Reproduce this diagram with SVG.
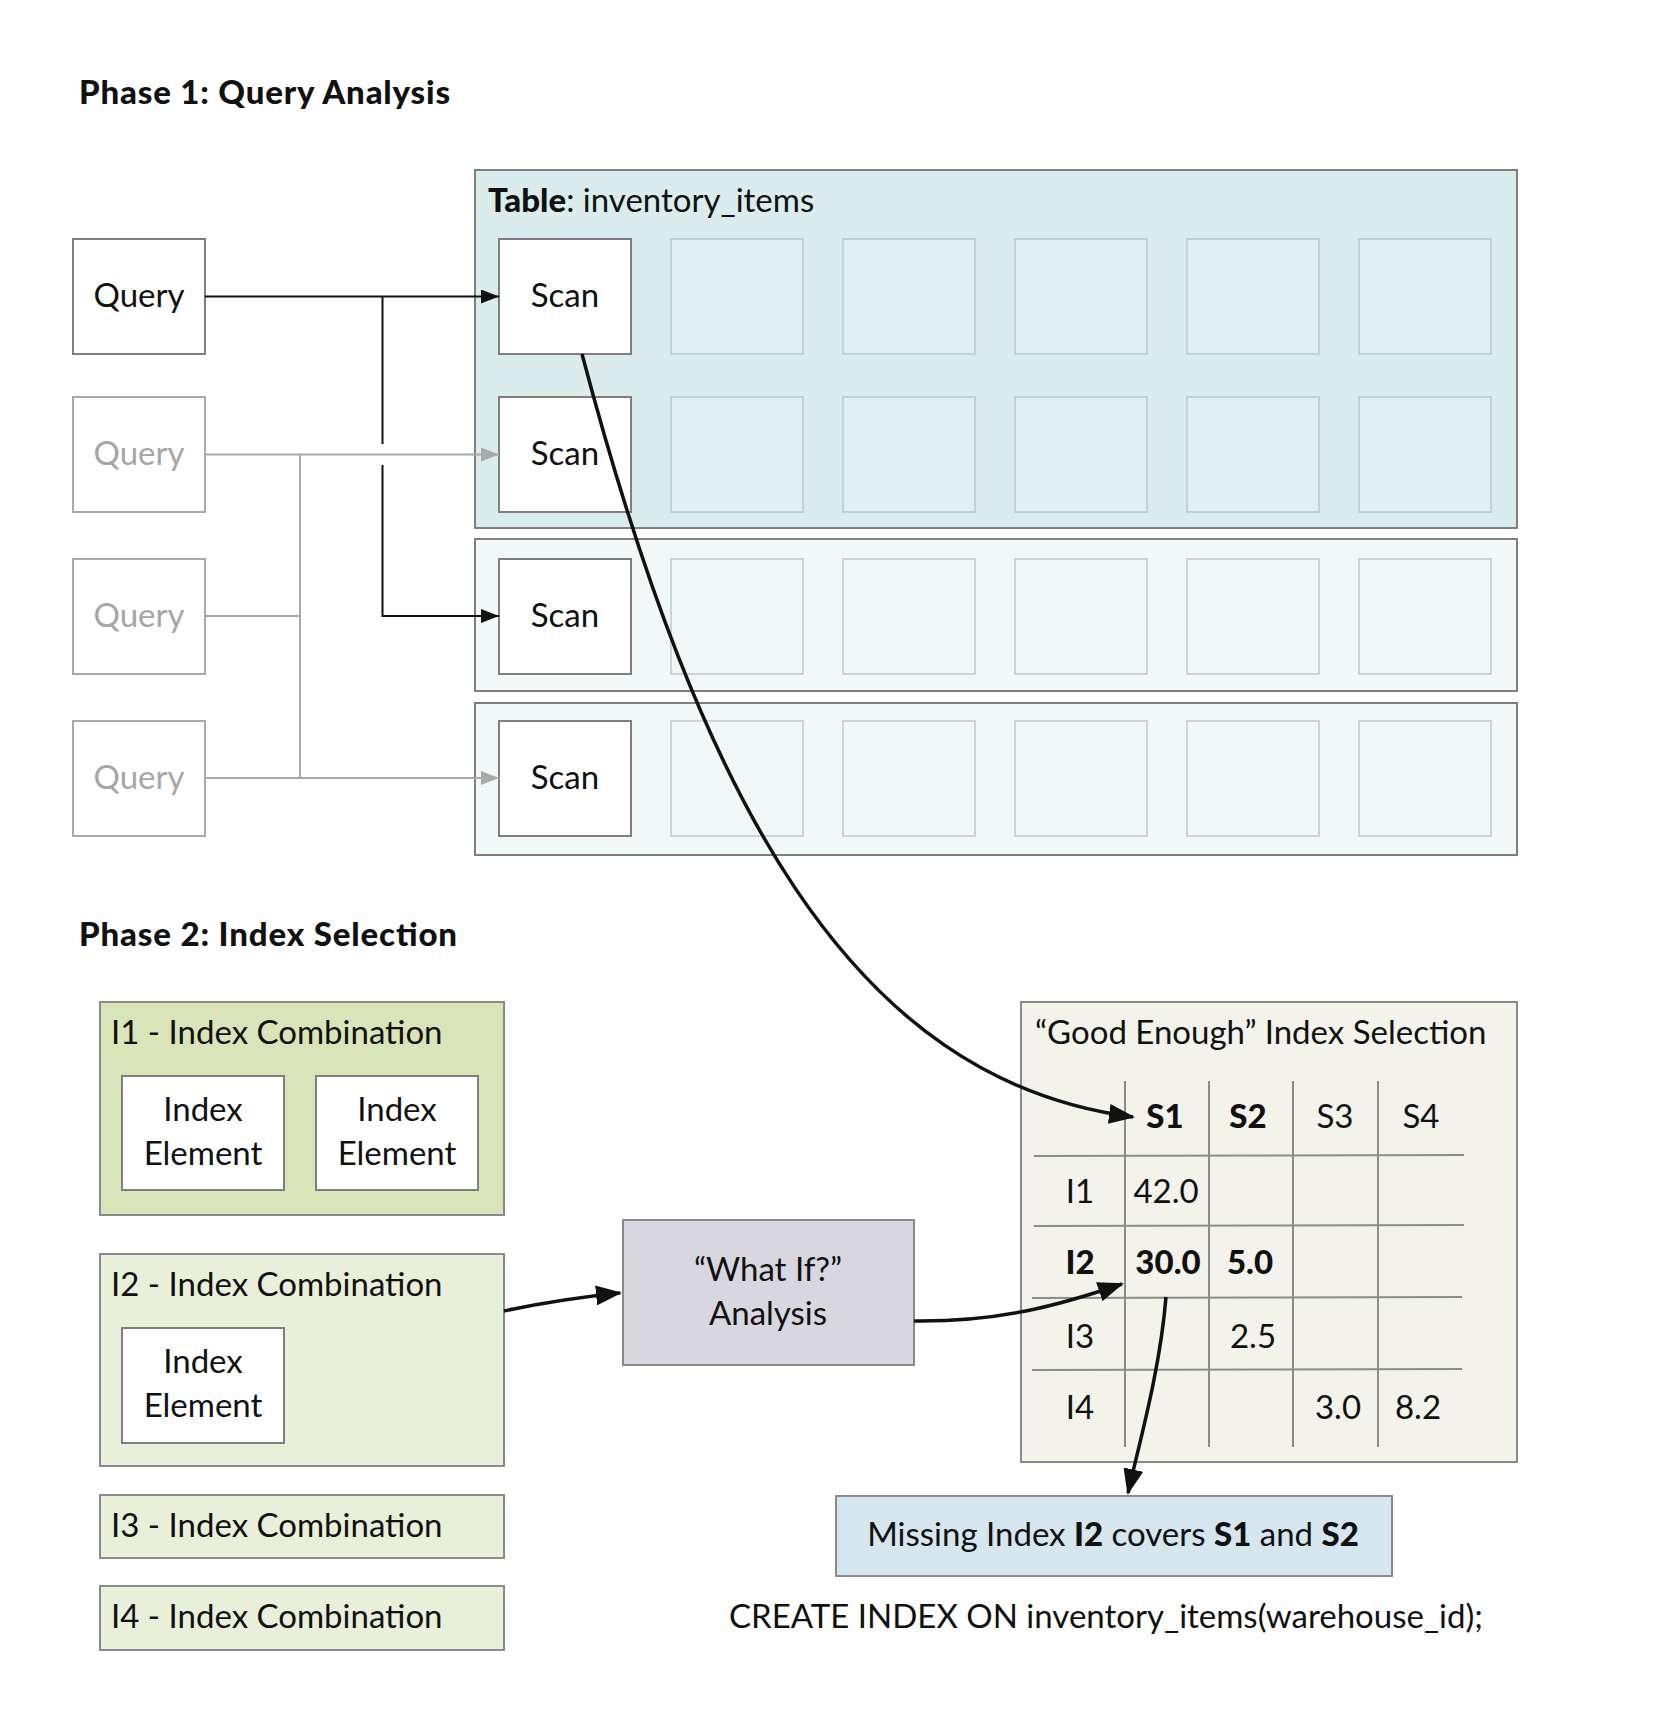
<svg xmlns="http://www.w3.org/2000/svg" width="1672" height="1728" viewBox="0 0 1672 1728">
<style>
text{font-family:Lato,"Noto Sans","Liberation Sans",sans-serif;font-size:33px;fill:#111}
.title{font-weight:900;font-size:33px}
.c{text-anchor:middle}
.b{font-weight:900}
.box{fill:#fff;stroke:#7f7f7f;stroke-width:2}
.gbox{fill:#fff;stroke:#a9a9a9;stroke-width:2}
.gtxt{fill:#a6a6a6}
.cell{fill:#e2eff0;stroke:#c3d1d2;stroke-width:2}
.cell2{fill:#f2f8f8;stroke:#c9d5d6;stroke-width:2}
.tbl{stroke:#7f7f7f;stroke-width:2}
.grid{stroke:#8c8c8c;stroke-width:2}
.ln{fill:none;stroke:#111;stroke-width:2}
.lg{fill:none;stroke:#a9a9a9;stroke-width:2}
.thick{fill:none;stroke:#111;stroke-width:3.5}
</style>
<defs>
<marker id="ab" markerUnits="userSpaceOnUse" markerWidth="18" markerHeight="14" refX="18" refY="7" orient="auto"><path d="M0,0 L18,7 L0,14 Z" fill="#111"/></marker>
<marker id="ag" markerUnits="userSpaceOnUse" markerWidth="18" markerHeight="14" refX="18" refY="7" orient="auto"><path d="M0,0 L18,7 L0,14 Z" fill="#a9a9a9"/></marker>
<marker id="abig" markerUnits="userSpaceOnUse" markerWidth="26" markerHeight="20" refX="24" refY="10" orient="auto"><path d="M0,0 L26,10 L0,20 Z" fill="#111"/></marker>
</defs>
<rect width="1672" height="1728" fill="#fff"/>

<text class="title" x="79" y="104" textLength="371" lengthAdjust="spacing">Phase 1: Query Analysis</text>
<text class="title" x="79" y="946" textLength="378" lengthAdjust="spacing">Phase 2: Index Selection</text>

<g id="table-main">
<rect class="tbl" x="475" y="170" width="1042" height="358" fill="#dbecec"/>
<text x="488" y="212"><tspan class="b">Table</tspan>: inventory_items</text>
</g>
<g id="table-row3"><rect class="tbl" x="475" y="539" width="1042" height="152" fill="#f2f8f8"/></g>
<g id="table-row4"><rect class="tbl" x="475" y="703" width="1042" height="152" fill="#f2f8f8"/></g>

<g id="cells">
<rect class="cell" x="671" y="239" width="132" height="115"/><rect class="cell" x="843" y="239" width="132" height="115"/><rect class="cell" x="1015" y="239" width="132" height="115"/><rect class="cell" x="1187" y="239" width="132" height="115"/><rect class="cell" x="1359" y="239" width="132" height="115"/>
<rect class="cell" x="671" y="397" width="132" height="115"/><rect class="cell" x="843" y="397" width="132" height="115"/><rect class="cell" x="1015" y="397" width="132" height="115"/><rect class="cell" x="1187" y="397" width="132" height="115"/><rect class="cell" x="1359" y="397" width="132" height="115"/>
<rect class="cell2" x="671" y="559" width="132" height="115"/><rect class="cell2" x="843" y="559" width="132" height="115"/><rect class="cell2" x="1015" y="559" width="132" height="115"/><rect class="cell2" x="1187" y="559" width="132" height="115"/><rect class="cell2" x="1359" y="559" width="132" height="115"/>
<rect class="cell2" x="671" y="721" width="132" height="115"/><rect class="cell2" x="843" y="721" width="132" height="115"/><rect class="cell2" x="1015" y="721" width="132" height="115"/><rect class="cell2" x="1187" y="721" width="132" height="115"/><rect class="cell2" x="1359" y="721" width="132" height="115"/>
</g>

<g id="query1"><rect class="box" x="73" y="239" width="132" height="115"/><text class="c" x="139" y="307">Query</text></g>
<g id="query2"><rect class="gbox" x="73" y="397" width="132" height="115"/><text class="c gtxt" x="139" y="465">Query</text></g>
<g id="query3"><rect class="gbox" x="73" y="559" width="132" height="115"/><text class="c gtxt" x="139" y="627">Query</text></g>
<g id="query4"><rect class="gbox" x="73" y="721" width="132" height="115"/><text class="c gtxt" x="139" y="789">Query</text></g>

<g id="scan1"><rect class="box" x="499" y="239" width="132" height="115"/><text class="c" x="565" y="307">Scan</text></g>
<g id="scan2"><rect class="box" x="499" y="397" width="132" height="115"/><text class="c" x="565" y="465">Scan</text></g>
<g id="scan3"><rect class="box" x="499" y="559" width="132" height="115"/><text class="c" x="565" y="627">Scan</text></g>
<g id="scan4"><rect class="box" x="499" y="721" width="132" height="115"/><text class="c" x="565" y="789">Scan</text></g>

<g id="i1">
<rect x="100" y="1002" width="404" height="213" fill="#d9e5b8" stroke="#8a8a8a" stroke-width="2"/>
<text x="111" y="1044">I1 - Index Combination</text>
<rect class="box" x="122" y="1076" width="162" height="114"/>
<text class="c" x="203" y="1121">Index</text><text class="c" x="203" y="1165">Element</text>
<rect class="box" x="316" y="1076" width="162" height="114"/>
<text class="c" x="397" y="1121">Index</text><text class="c" x="397" y="1165">Element</text>
</g>
<g id="i2">
<rect x="100" y="1254" width="404" height="212" fill="#e9f0da" stroke="#8a8a8a" stroke-width="2"/>
<text x="111" y="1296">I2 - Index Combination</text>
<rect class="box" x="122" y="1328" width="162" height="115"/>
<text class="c" x="203" y="1373">Index</text><text class="c" x="203" y="1417">Element</text>
</g>
<g id="i3">
<rect x="100" y="1495" width="404" height="63" fill="#e9f0da" stroke="#8a8a8a" stroke-width="2"/>
<text x="111" y="1537">I3 - Index Combination</text>
</g>
<g id="i4">
<rect x="100" y="1586" width="404" height="64" fill="#e9f0da" stroke="#8a8a8a" stroke-width="2"/>
<text x="111" y="1628">I4 - Index Combination</text>
</g>

<g id="whatif">
<rect x="623" y="1220" width="291" height="145" fill="#d8d7df" stroke="#8a8a8a" stroke-width="2"/>
<text class="c" x="768" y="1281">“What If?”</text>
<text class="c" x="768" y="1325">Analysis</text>
</g>

<g id="goodenough">
<rect x="1021" y="1002" width="496" height="460" fill="#f3f3ec" stroke="#8a8a8a" stroke-width="2"/>
<text x="1035" y="1044">“Good Enough” Index Selection</text>
<line class="grid" x1="1125" y1="1081" x2="1125" y2="1447"/>
<line class="grid" x1="1209" y1="1081" x2="1209" y2="1447"/>
<line class="grid" x1="1293" y1="1081" x2="1293" y2="1447"/>
<line class="grid" x1="1378" y1="1081" x2="1378" y2="1447"/>
<line class="grid" x1="1034" y1="1156" x2="1464" y2="1155"/>
<line class="grid" x1="1034" y1="1226" x2="1464" y2="1225"/>
<line class="grid" x1="1032" y1="1298" x2="1462" y2="1297"/>
<line class="grid" x1="1032" y1="1370" x2="1462" y2="1369"/>
<text class="c b" x="1165" y="1128">S1</text>
<text class="c b" x="1248" y="1128">S2</text>
<text class="c" x="1335" y="1128">S3</text>
<text class="c" x="1421" y="1128">S4</text>
<text class="c" x="1080" y="1203">I1</text>
<text class="c b" x="1080" y="1274">I2</text>
<text class="c" x="1080" y="1348">I3</text>
<text class="c" x="1080" y="1419">I4</text>
<text class="c" x="1166" y="1203">42.0</text>
<text class="c b" x="1168" y="1274">30.0</text>
<text class="c b" x="1250" y="1274">5.0</text>
<text class="c" x="1253" y="1348">2.5</text>
<text class="c" x="1338" y="1419">3.0</text>
<text class="c" x="1418" y="1419">8.2</text>
</g>

<g id="missing">
<rect x="836" y="1496" width="556" height="80" fill="#d5e6ee" stroke="#8a8a8a" stroke-width="2"/>
<text class="c" x="1113" y="1546">Missing Index <tspan class="b">I2</tspan> covers <tspan class="b">S1</tspan> and <tspan class="b">S2</tspan></text>
</g>

<g id="sql"><text class="c" x="1106" y="1628">CREATE INDEX ON inventory_items(warehouse_id);</text></g>

<g id="connectors">
<path class="lg" d="M205,454.5 H499" marker-end="url(#ag)"/>
<path class="lg" d="M300,454.5 V778"/>
<path class="lg" d="M205,616 H300"/>
<path class="lg" d="M205,778 H499" marker-end="url(#ag)"/>
<path class="ln" d="M205,296.5 H499" marker-end="url(#ab)"/>
<path class="ln" d="M382.5,296.5 V444"/>
<path class="ln" d="M382.5,465 V616 H499" marker-end="url(#ab)"/>
<path class="thick" d="M582,354 C700,800 850,1080 1133,1117" marker-end="url(#abig)"/>
<path class="thick" d="M504,1311 Q560,1299 620,1293" marker-end="url(#abig)"/>
<path class="thick" d="M914,1321 C1000,1322 1060,1305 1122,1284" marker-end="url(#abig)"/>
<path class="thick" d="M1166,1297 C1160,1370 1140,1440 1128,1493" marker-end="url(#abig)"/>
</g>
</svg>
